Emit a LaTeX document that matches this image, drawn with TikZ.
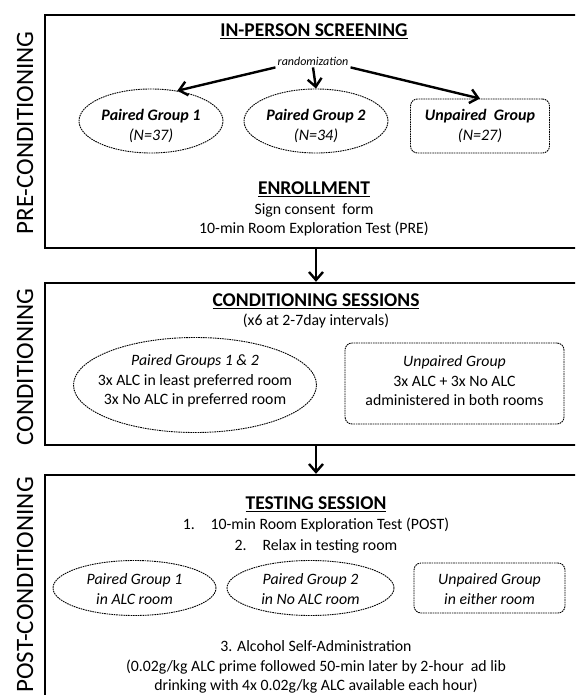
\documentclass[tikz,border=0pt]{standalone}
\usepackage{fontspec}
\setmainfont{Carlito}
\usetikzlibrary{arrows.meta,shapes.geometric}
\begin{document}
\begin{tikzpicture}[x=1pt,y=-1pt,
  body/.style={font=\fontsize{15.8}{19.5}\selectfont, align=center, inner sep=0pt},
  ital/.style={font=\itshape\fontsize{15.8}{19.5}\selectfont, align=center, inner sep=0pt},
  bital/.style={font=\bfseries\itshape\fontsize{16}{20.5}\selectfont, align=center, inner sep=0pt},
  head/.style={font=\bfseries\fontsize{19.5}{22}\selectfont, inner sep=0pt},
  panel/.style={draw, line width=2.4pt, minimum width=542pt, inner sep=0pt},
  grp/.style={draw, dash pattern=on 1.6pt off 0.8pt, line width=0.9pt, inner sep=0pt},
  ellgrp/.style={grp, ellipse},
  rgrp/.style={grp, rectangle, rounded corners=7pt},
  arr/.style={line width=2.4pt, -{Straight Barb[length=8pt,width=14pt,line width=2.4pt]}},
  side/.style={rotate=90, font=\fontsize{25}{29}\selectfont, inner sep=0pt}
]
\useasboundingbox (0,0) rectangle (575,695);
\fill[white] (0,0) rectangle (575,695);
\clip (0,0) rectangle (575,695);

% panels
\node[panel, minimum height=233pt] (p1) at (316,131.5) {};
\node[panel, minimum height=162pt] (p2) at (316,364) {};
\node[panel, minimum height=246pt] (p3) at (316,598) {};
\draw[arr] (p1.south) -- (p2.north);
\draw[arr] (p2.south) -- (p3.north);

% side labels
\node[side] (s1) at (25,133) {PRE-CONDITIONING};
\node[side] (s2) at (25,367) {CONDITIONING};
\node[side] (s3) at (25,585) {POST-CONDITIONING};

% panel 1
\node[head] (scr) at (314,31) {\underline{IN-PERSON SCREENING}};
\node[font=\itshape\fontsize{12}{14}\selectfont, inner sep=2pt] (rnd) at (313,61) {randomization};
\node[ellgrp, minimum width=144pt, minimum height=64pt] (g1) at (151,121) {};
\node[ellgrp, minimum width=144pt, minimum height=64pt] (g2) at (316,121) {};
\node[rgrp, minimum width=139pt, minimum height=54pt] (gu) at (480,126) {};
\node[bital] (g1t) at (151,126) {Paired Group 1\\\mdseries (N=37)};
\node[bital] (g2t) at (316,126) {Paired Group 2\\\mdseries (N=34)};
\node[bital] (gut) at (480,126) {Unpaired\ \ Group\\\mdseries (N=27)};
\draw[arr] (rnd.south west) -- (g1.49);
\draw[arr] (rnd.south) -- (g2.north);
\draw[arr] (rnd.south east) -- (gu.north);
\node[head] (enr) at (314,189) {\underline{ENROLLMENT}};
\node[body] (enrt) at (314,220) {Sign consent\ \ form\\10-min Room Exploration Test (PRE)};

% panel 2
\node[head] (cs) at (316,301) {\underline{CONDITIONING SESSIONS}};
\node[body] (csi) at (316,321) {(x6 at 2-7day intervals)};
\node[ellgrp, minimum width=243pt, minimum height=95pt] (e2) at (195,385) {};
\node[rgrp, minimum width=219pt, minimum height=81pt] (u2) at (454.5,383.5) {};
\node[body] (e2t) at (195,381) {\textit{Paired Groups 1 \& 2}\\3x ALC in least preferred room\\3x No ALC in preferred room};
\node[body] (u2t) at (454.5,381) {\textit{Unpaired Group}\\3x ALC + 3x No ALC\\administered in both rooms};

% panel 3
\node[head] (ts) at (316,504) {\underline{TESTING SESSION}};
\node[body] (t1) at (316,525) {1.\quad 10-min Room Exploration Test (POST)};
\node[body] (t2) at (316,546) {2.\quad Relax in testing room};
\node[ellgrp, minimum width=163pt, minimum height=55pt] (e3a) at (134.5,588) {};
\node[ellgrp, minimum width=167pt, minimum height=55pt] (e3b) at (310.5,588) {};
\node[rgrp, minimum width=151pt, minimum height=50pt] (u3) at (489.5,588) {};
\node[ital] (e3at) at (134.5,589) {Paired Group 1\\in ALC room};
\node[ital] (e3bt) at (310.5,589) {Paired Group 2\\in No ALC room};
\node[ital] (u3t) at (489.5,589) {Unpaired Group\\in either room};
\node[body] (t3) at (316,667) {3. Alcohol Self-Administration\\(0.02g/kg ALC prime followed 50-min later by 2-hour\ \ ad lib\\drinking with 4x 0.02g/kg ALC available each hour)};
\end{tikzpicture}
\end{document}
